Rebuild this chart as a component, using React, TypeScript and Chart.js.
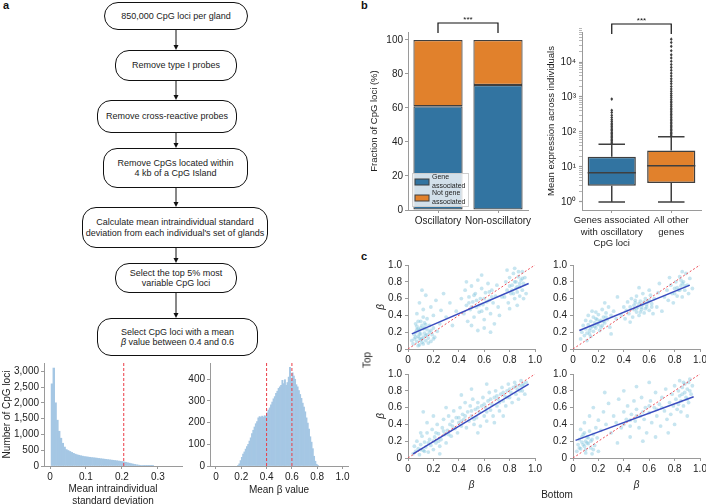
import React, { useEffect, useRef } from 'react';
import { Chart, registerables } from 'chart.js';

Chart.register(...registerables);

const FONT = '"Liberation Sans", Arial, Helvetica, sans-serif';
Chart.defaults.font.family = FONT;
Chart.defaults.font.size = 10;
Chart.defaults.color = '#222';

// ---------------- DATA ----------------
const flowSteps: string[][] = [
  ['850,000 CpG loci per gland'],
  ['Remove type I probes'],
  ['Remove cross-reactive probes'],
  ['Remove CpGs located within', '4 kb of a CpG Island'],
  ['Calculate mean intraindividual standard', "deviation from each individual's set of glands"],
  ['Select the top 5% most', 'variable CpG loci'],
  ['Select CpG loci with a mean', 'β value between 0.4 and 0.6'],
];

// histogram 1: mean intraindividual SD
const sdBinStart = 0.003;
const sdBinWidth = 0.005;
const sdCounts = [2600, 3100, 2000, 1450, 1100, 880, 720, 600, 520, 490, 460, 430, 400, 375, 355, 340, 325, 312, 300, 292, 284, 276, 268, 262, 255, 248, 240, 232, 225, 218, 210, 203, 196, 188, 181, 174, 166, 158, 150, 140, 130, 118, 104, 90, 76, 62, 50, 39, 30, 22, 15, 10, 6, 4, 2, 1, 1];
const sdThreshold = 0.205;
const sdTicks = [0, 0.1, 0.2, 0.3];
const sdCountTicks = [0, 500, 1000, 1500, 2000, 2500, 3000];

// histogram 2: mean beta
const betaBinStart = 0.17;
const betaBinWidth = 0.01;
const betaCounts = [3, 10, 25, 40, 55, 65, 78, 90, 100, 115, 130, 150, 165, 180, 195, 205, 222, 228, 225, 230, 226, 232, 228, 245, 258, 268, 282, 295, 310, 320, 335, 345, 358, 365, 372, 395, 380, 398, 372, 385, 410, 455, 395, 430, 415, 400, 375, 365, 348, 330, 312, 290, 272, 250, 222, 198, 170, 135, 110, 80, 45, 22, 8, 3];
const betaThresholds = [0.4, 0.6];
const betaTicks = [0, 0.2, 0.4, 0.6, 0.8, 1.0];
const betaCountTicks = [0, 100, 200, 300, 400];

// panel b: stacked bars
const lociGroups = ['Oscillatory', 'Non-oscillatory'];
const geneAssociated = [61, 73.5];
const notGeneAssociated = [39, 26.5];
const fractionTicks = [0, 20, 40, 60, 80, 100];

// panel b: box plot
const exprGroups = [['Genes associated', 'with oscillatory', 'CpG loci'], ['All other', 'genes']];
const whiskerLow = [1, 1];
const q1 = [2.9, 3.5];
const median = [6.9, 10.9];
const q3 = [19.5, 29.5];
const whiskerHigh = [45, 73];
const outliersOsc = [48, 52, 57, 62, 68, 75, 82, 90, 98, 108, 118, 130, 145, 160, 178, 200, 225, 260, 300, 360, 420, 870];
const outliersOther = [76, 82, 90, 98, 108, 118, 130, 142, 156, 172, 190, 210, 232, 256, 285, 315, 350, 390, 430, 480, 540, 600, 680, 760, 860, 980, 1100, 1250, 1450, 1700, 2000, 2400, 2800, 3300, 4000, 4800, 5800, 7000, 8500, 10500, 13000, 16000, 21000, 28000, 36000, 45000];
const exprDecades = [0, 1, 2, 3, 4];

// panel c: scatter (Bottom beta vs Top beta)
const scatterTL: number[][] = [
  [0.04, 0.06], [0.05, 0.12], [0.06, 0.2], [0.07, 0.09], [0.07, 0.27], [0.08, 0.15], [0.08, 0.33], [0.09, 0.05], [0.09, 0.22], [0.1, 0.11], [0.1, 0.18], [0.11, 0.28], [0.11, 0.08], [0.12, 0.14], [0.12, 0.24], [0.13, 0.19], [0.13, 0.31], [0.14, 0.1], [0.14, 0.16], [0.15, 0.23], [0.15, 0.36], [0.16, 0.13], [0.17, 0.2], [0.17, 0.28], [0.18, 0.09], [0.19, 0.17], [0.2, 0.25], [0.21, 0.14], [0.05, 0.17], [0.06, 0.3], [0.08, 0.04], [0.1, 0.25], [0.12, 0.38], [0.09, 0.13], [0.16, 0.07], [0.23, 0.21], [0.25, 0.3], [0.03, 0.1],
  [0.06, 0.14], [0.07, 0.23], [0.09, 0.18], [0.11, 0.12], [0.13, 0.25], [0.15, 0.17], [0.08, 0.24], [0.12, 0.06], [0.14, 0.29], [0.1, 0.33], [0.18, 0.22], [0.2, 0.12],
  [0.07, 0.42], [0.09, 0.55], [0.12, 0.47], [0.14, 0.64], [0.18, 0.5], [0.2, 0.4], [0.22, 0.58], [0.26, 0.46], [0.3, 0.38], [0.33, 0.55], [0.28, 0.66], [0.11, 0.7], [0.35, 0.28], [0.38, 0.45],
  [0.42, 0.6], [0.44, 0.42], [0.45, 0.7], [0.46, 0.52], [0.47, 0.33], [0.48, 0.62], [0.49, 0.47], [0.5, 0.75], [0.51, 0.56], [0.52, 0.38], [0.53, 0.66], [0.54, 0.5], [0.55, 0.82], [0.56, 0.44], [0.57, 0.6], [0.58, 0.72], [0.59, 0.53], [0.6, 0.35], [0.61, 0.67], [0.62, 0.48], [0.63, 0.78], [0.64, 0.58], [0.65, 0.42], [0.66, 0.7], [0.67, 0.55], [0.68, 0.3], [0.69, 0.63], [0.7, 0.76], [0.71, 0.5], [0.5, 0.28], [0.55, 0.22], [0.6, 0.25], [0.65, 0.2], [0.72, 0.4], [0.74, 0.62], [0.46, 0.8], [0.58, 0.88],
  [0.48, 0.55], [0.52, 0.64], [0.56, 0.52], [0.6, 0.6], [0.64, 0.68], [0.54, 0.58], [0.5, 0.5], [0.62, 0.56], [0.58, 0.45], [0.66, 0.62],
  [0.76, 0.62], [0.77, 0.8], [0.78, 0.7], [0.79, 0.55], [0.8, 0.85], [0.81, 0.66], [0.82, 0.76], [0.83, 0.9], [0.84, 0.6], [0.85, 0.72], [0.85, 0.8], [0.86, 0.68], [0.87, 0.86], [0.88, 0.74], [0.88, 0.63], [0.89, 0.82], [0.9, 0.92], [0.9, 0.7], [0.91, 0.78], [0.92, 0.85], [0.93, 0.66], [0.8, 0.48], [0.86, 0.52], [0.78, 0.94], [0.84, 0.96], [0.91, 0.6],
  [0.8, 0.75], [0.82, 0.7], [0.84, 0.8], [0.86, 0.74], [0.88, 0.78], [0.9, 0.84], [0.83, 0.66], [0.87, 0.92],
];
const scatterTR: number[][] = [
  [0.06, 0.12], [0.07, 0.2], [0.08, 0.28], [0.09, 0.16], [0.1, 0.24], [0.1, 0.34], [0.11, 0.19], [0.12, 0.29], [0.12, 0.4], [0.13, 0.22], [0.14, 0.33], [0.14, 0.15], [0.15, 0.27], [0.16, 0.38], [0.16, 0.21], [0.17, 0.31], [0.18, 0.44], [0.18, 0.25], [0.19, 0.35], [0.2, 0.29], [0.2, 0.41], [0.21, 0.22], [0.22, 0.34], [0.23, 0.47], [0.23, 0.28], [0.24, 0.38], [0.25, 0.31], [0.26, 0.43], [0.27, 0.35], [0.28, 0.5], [0.29, 0.26], [0.3, 0.4], [0.32, 0.45], [0.34, 0.36], [0.15, 0.45], [0.25, 0.55], [0.11, 0.1],
  [0.14, 0.25], [0.17, 0.27], [0.19, 0.3], [0.21, 0.33], [0.22, 0.26], [0.24, 0.33], [0.18, 0.36], [0.13, 0.18], [0.26, 0.38],
  [0.38, 0.4], [0.4, 0.5], [0.41, 0.36], [0.42, 0.46], [0.43, 0.56], [0.44, 0.42], [0.45, 0.5], [0.46, 0.6], [0.47, 0.38], [0.48, 0.47], [0.49, 0.55], [0.5, 0.44], [0.5, 0.63], [0.51, 0.5], [0.52, 0.4], [0.53, 0.57], [0.54, 0.47], [0.55, 0.66], [0.55, 0.53], [0.56, 0.43], [0.57, 0.6], [0.58, 0.5], [0.59, 0.56], [0.6, 0.46], [0.61, 0.64], [0.62, 0.54], [0.63, 0.42], [0.64, 0.6], [0.66, 0.5], [0.67, 0.67], [0.45, 0.32], [0.6, 0.7], [0.52, 0.73], [0.7, 0.45],
  [0.48, 0.52], [0.5, 0.48], [0.52, 0.54], [0.54, 0.5], [0.56, 0.56], [0.58, 0.53], [0.6, 0.58], [0.53, 0.44], [0.57, 0.48], [0.49, 0.58], [0.62, 0.5],
  [0.72, 0.62], [0.74, 0.7], [0.75, 0.58], [0.77, 0.76], [0.78, 0.66], [0.79, 0.55], [0.8, 0.72], [0.81, 0.8], [0.82, 0.63], [0.83, 0.7], [0.84, 0.86], [0.85, 0.75], [0.86, 0.62], [0.87, 0.8], [0.88, 0.7], [0.89, 0.9], [0.9, 0.76], [0.91, 0.66], [0.92, 0.84], [0.76, 0.85], [0.86, 0.92], [0.68, 0.78], [0.35, 0.62], [0.3, 0.18], [0.94, 0.72],
  [0.82, 0.73], [0.84, 0.7], [0.86, 0.78], [0.88, 0.75], [0.85, 0.82], [0.8, 0.66],
];
const scatterBL: number[][] = [
  [0.04, 0.05], [0.05, 0.14], [0.06, 0.08], [0.07, 0.2], [0.08, 0.11], [0.09, 0.04], [0.1, 0.16], [0.11, 0.26], [0.12, 0.09], [0.13, 0.19], [0.14, 0.13], [0.15, 0.3], [0.16, 0.07], [0.17, 0.22], [0.18, 0.15], [0.19, 0.34], [0.2, 0.1], [0.21, 0.25], [0.22, 0.18], [0.23, 0.4], [0.24, 0.29], [0.25, 0.14], [0.26, 0.22], [0.27, 0.36], [0.28, 0.46], [0.29, 0.28], [0.3, 0.18], [0.31, 0.33], [0.32, 0.5], [0.33, 0.4], [0.34, 0.26], [0.35, 0.44], [0.36, 0.56], [0.37, 0.35], [0.38, 0.48], [0.39, 0.3], [0.4, 0.42], [0.41, 0.6], [0.42, 0.38], [0.43, 0.52], [0.44, 0.46], [0.45, 0.66], [0.46, 0.36], [0.47, 0.55], [0.48, 0.44], [0.49, 0.62], [0.5, 0.5], [0.51, 0.7], [0.52, 0.4], [0.53, 0.58], [0.54, 0.48], [0.55, 0.66], [0.56, 0.55], [0.57, 0.38], [0.58, 0.62], [0.59, 0.72], [0.6, 0.5], [0.61, 0.6], [0.62, 0.44], [0.63, 0.68], [0.64, 0.78], [0.65, 0.57], [0.66, 0.64], [0.67, 0.5], [0.68, 0.72], [0.69, 0.8], [0.7, 0.62], [0.71, 0.7], [0.72, 0.56], [0.73, 0.76], [0.74, 0.84], [0.75, 0.68], [0.76, 0.74], [0.77, 0.62], [0.78, 0.8], [0.79, 0.88], [0.8, 0.72], [0.81, 0.78], [0.82, 0.66], [0.83, 0.84], [0.84, 0.9], [0.85, 0.76], [0.86, 0.82], [0.87, 0.7], [0.88, 0.86], [0.89, 0.92], [0.9, 0.8], [0.91, 0.88], [0.92, 0.76], [0.93, 0.9], [0.2, 0.5], [0.15, 0.42], [0.3, 0.6], [0.42, 0.75], [0.55, 0.3], [0.68, 0.42], [0.75, 0.5], [0.1, 0.3], [0.25, 0.05], [0.5, 0.82], [0.62, 0.88], [0.12, 0.55],
  [0.1, 0.1], [0.13, 0.08], [0.16, 0.18], [0.2, 0.2], [0.24, 0.2], [0.28, 0.32], [0.35, 0.38], [0.4, 0.48], [0.45, 0.5], [0.5, 0.56], [0.55, 0.6], [0.6, 0.64], [0.65, 0.7], [0.7, 0.74], [0.75, 0.78], [0.8, 0.82], [0.85, 0.86], [0.88, 0.8], [0.9, 0.86], [0.78, 0.72], [0.72, 0.66], [0.62, 0.55], [0.52, 0.46], [0.42, 0.44], [0.32, 0.28], [0.22, 0.3],
];
const scatterBR: number[][] = [
  [0.03, 0.08], [0.04, 0.16], [0.05, 0.22], [0.06, 0.11], [0.07, 0.19], [0.08, 0.28], [0.09, 0.14], [0.1, 0.2], [0.1, 0.06], [0.11, 0.25], [0.12, 0.17], [0.13, 0.32], [0.14, 0.12], [0.15, 0.22], [0.16, 0.28], [0.17, 0.15], [0.18, 0.36], [0.19, 0.24], [0.06, 0.34], [0.09, 0.42], [0.13, 0.5], [0.16, 0.6], [0.2, 0.45], [0.22, 0.33], [0.24, 0.55], [0.26, 0.4], [0.28, 0.65], [0.3, 0.3], [0.32, 0.5], [0.34, 0.42], [0.36, 0.7], [0.38, 0.36], [0.4, 0.55], [0.42, 0.46], [0.43, 0.62], [0.45, 0.38], [0.46, 0.52], [0.48, 0.68], [0.49, 0.44], [0.5, 0.58], [0.52, 0.36], [0.53, 0.5], [0.54, 0.72], [0.56, 0.46], [0.57, 0.6], [0.58, 0.3], [0.6, 0.54], [0.61, 0.68], [0.62, 0.42], [0.64, 0.6], [0.65, 0.78], [0.66, 0.5], [0.68, 0.64], [0.69, 0.38], [0.7, 0.72], [0.72, 0.56], [0.73, 0.82], [0.74, 0.46], [0.76, 0.66], [0.77, 0.52], [0.78, 0.76], [0.79, 0.62], [0.8, 0.86], [0.81, 0.7], [0.82, 0.58], [0.83, 0.8], [0.84, 0.92], [0.85, 0.68], [0.86, 0.76], [0.87, 0.62], [0.88, 0.88], [0.89, 0.72], [0.9, 0.82], [0.91, 0.66], [0.92, 0.94], [0.93, 0.76], [0.94, 0.86], [0.85, 0.55], [0.9, 0.5], [0.75, 0.3], [0.55, 0.2], [0.45, 0.25], [0.35, 0.18], [0.25, 0.78], [0.5, 0.85], [0.65, 0.25], [0.4, 0.8], [0.8, 0.4], [0.2, 0.08], [0.15, 0.05], [0.6, 0.9],
  [0.05, 0.12], [0.07, 0.25], [0.08, 0.16], [0.1, 0.1], [0.11, 0.18], [0.12, 0.24], [0.14, 0.2], [0.09, 0.3], [0.16, 0.1],
  [0.84, 0.74], [0.86, 0.84], [0.88, 0.78], [0.9, 0.7], [0.92, 0.8], [0.87, 0.9], [0.83, 0.64], [0.91, 0.9],
  [0.5, 0.5], [0.55, 0.55], [0.6, 0.62], [0.45, 0.45], [0.66, 0.58], [0.4, 0.4], [0.7, 0.6],
];
const regTL = [[0.03, 0.18], [0.95, 0.78]];
const regTR = [[0.05, 0.22], [0.92, 0.76]];
const regBL = [[0.04, 0.05], [0.95, 0.88]];
const regBR = [[0.02, 0.21], [0.95, 0.73]];
const identityLine = [[0, 0], [1, 1]];
const unitTicks = [0, 0.2, 0.4, 0.6, 0.8, 1.0];

// ---------------- STYLE ----------------
const BLUE = '#3274a1';
const ORANGE = '#e1812c';
const EDGE = '#3f3f3f';
const HIST = '#a5c7e4';
const RED = '#ec3d47';
const AXIS = '#9a9a9a';
const DOT = 'rgba(122,194,220,0.42)';
const REG = '#3a4cbf';
const SUP = ['⁰', '¹', '²', '³', '⁴', '⁵'];

const grid = { drawOnChartArea: false, drawTicks: true, tickLength: 3, color: AXIS, offset: false };
const border = { color: AXIS, width: 1 };
const fixX = (h: number) => (s: any) => { s.height = h; s.paddingLeft = 0; s.paddingRight = 0; };
const fixY = (w: number) => (s: any) => { s.width = w; s.paddingTop = 0; s.paddingBottom = 0; };
const setTicks = (vals: number[]) => (s: any) => { s.ticks = vals.map((v) => ({ value: v })); };
const dec1 = (v: any) => (Number(v) === 0 ? '0' : Number(v).toFixed(1));
const basePlugins = { legend: { display: false }, tooltip: { enabled: false } };

function ChartCanvas(props: { left: number; top: number; width: number; height: number; config: () => any }) {
  const ref = useRef<HTMLCanvasElement | null>(null);
  useEffect(() => {
    if (!ref.current) return;
    const chart = new Chart(ref.current, props.config());
    return () => chart.destroy();
  }, []);
  return (
    <canvas
      ref={ref}
      width={props.width}
      height={props.height}
      style={{ position: 'absolute', left: props.left, top: props.top, width: props.width, height: props.height }}
    />
  );
}

const bracketPlugin = (yTop: number, yLeg: number) => ({
  id: 'bracket',
  afterDraw(chart: any) {
    const ctx = chart.ctx;
    const xs = chart.scales.x;
    const x0 = xs.getPixelForValue(0);
    const x1 = xs.getPixelForValue(1);
    ctx.save();
    ctx.strokeStyle = '#111';
    ctx.lineWidth = 1.2;
    ctx.beginPath();
    ctx.moveTo(x0, yLeg);
    ctx.lineTo(x0, yTop);
    ctx.lineTo(x1, yTop);
    ctx.lineTo(x1, yLeg);
    ctx.stroke();
    ctx.fillStyle = '#111';
    ctx.font = '8px ' + FONT;
    ctx.textAlign = 'center';
    ctx.textBaseline = 'bottom';
    ctx.fillText('***', (x0 + x1) / 2, yTop + 1);
    ctx.restore();
  },
});

// ---------------- CONFIGS ----------------
function histSdConfig() {
  return {
    type: 'bar',
    data: {
      datasets: [
        { type: 'line', data: [{ x: sdThreshold, y: 0 }, { x: sdThreshold, y: 3260 }], borderColor: RED, borderWidth: 1, borderDash: [3, 2], pointRadius: 0 },
        {
          type: 'bar',
          data: sdCounts.map((c, i) => ({ x: sdBinStart + (i + 0.5) * sdBinWidth, y: c })),
          backgroundColor: HIST, borderWidth: 0, barPercentage: 1, categoryPercentage: 1,
        },
      ],
    },
    options: {
      animation: false, responsive: false, maintainAspectRatio: false,
      layout: { padding: { top: 8, right: 4, left: 0, bottom: 0 } },
      plugins: basePlugins,
      scales: {
        x: {
          type: 'linear', min: -0.0167, max: 0.367, offset: false, grid, border,
          afterBuildTicks: setTicks(sdTicks), afterFit: fixX(38),
          ticks: { callback: dec1, padding: 2, maxRotation: 0, autoSkip: false },
          title: { display: true, text: ['Mean intraindividual', 'standard deviation'], font: { size: 10 }, padding: { top: 0, bottom: -3 } },
        },
        y: {
          min: 0, max: 3260, grid, border,
          afterBuildTicks: setTicks(sdCountTicks), afterFit: fixY(44),
          ticks: { callback: (v: any) => Number(v).toLocaleString('en-US'), padding: 2, autoSkip: false },
          title: { display: true, text: 'Number of CpG loci', font: { size: 10 }, padding: { top: 1, bottom: 0 } },
        },
      },
    },
  };
}

function histBetaConfig() {
  return {
    type: 'bar',
    data: {
      datasets: [
        ...betaThresholds.map((t) => ({ type: 'line', data: [{ x: t, y: 0 }, { x: t, y: 475 }], borderColor: RED, borderWidth: 1, borderDash: [3, 2], pointRadius: 0 })),
        {
          type: 'bar',
          data: betaCounts.map((c, i) => ({ x: betaBinStart + (i + 0.5) * betaBinWidth, y: c })),
          backgroundColor: HIST, borderWidth: 0, barPercentage: 1, categoryPercentage: 1,
        },
      ],
    },
    options: {
      animation: false, responsive: false, maintainAspectRatio: false,
      layout: { padding: { top: 8, right: 2, left: 0, bottom: 0 } },
      plugins: basePlugins,
      scales: {
        x: {
          type: 'linear', min: -0.047, max: 1.043, offset: false, grid, border,
          afterBuildTicks: setTicks(betaTicks), afterFit: fixX(38),
          ticks: { callback: dec1, padding: 2, maxRotation: 0, autoSkip: false },
          title: { display: true, text: 'Mean β value', font: { size: 10 }, padding: { top: 0, bottom: 8 } },
        },
        y: {
          min: 0, max: 475, grid, border,
          afterBuildTicks: setTicks(betaCountTicks), afterFit: fixY(30),
          ticks: { padding: 2, autoSkip: false },
        },
      },
    },
  };
}

const legendPlugin = {
  id: 'innerLegend',
  afterDatasetsDraw(chart: any) {
    const ctx = chart.ctx;
    const area = chart.chartArea;
    const x0 = area.left + 4;
    const y0 = area.bottom - 37;
    ctx.save();
    ctx.fillStyle = 'rgba(255,255,255,0.78)';
    ctx.strokeStyle = '#cfcfcf';
    ctx.lineWidth = 1;
    ctx.fillRect(x0, y0, 57, 34);
    ctx.strokeRect(x0 + 0.5, y0 + 0.5, 56, 33);
    const entries = [
      { color: chart.data.datasets[0].backgroundColor, lines: ['Gene', 'associated'], sy: y0 + 9 },
      { color: chart.data.datasets[1].backgroundColor, lines: ['Not gene', 'associated'], sy: y0 + 25 },
    ];
    ctx.font = '7px ' + FONT;
    ctx.textBaseline = 'middle';
    ctx.textAlign = 'left';
    entries.forEach((e) => {
      ctx.fillStyle = e.color;
      ctx.fillRect(x0 + 3, e.sy - 3, 14, 6);
      ctx.strokeStyle = EDGE;
      ctx.strokeRect(x0 + 3, e.sy - 3, 14, 6);
      ctx.fillStyle = '#222';
      ctx.fillText(e.lines[0], x0 + 20, e.sy - 4.5);
      ctx.fillText(e.lines[1], x0 + 20, e.sy + 4);
    });
    ctx.restore();
  },
};

function barConfig() {
  return {
    type: 'bar',
    data: {
      labels: lociGroups,
      datasets: [
        { label: 'Gene associated', data: geneAssociated, backgroundColor: BLUE, borderColor: EDGE, borderWidth: 1.2, borderSkipped: false, barPercentage: 0.82, categoryPercentage: 1 },
        { label: 'Not gene associated', data: notGeneAssociated, backgroundColor: ORANGE, borderColor: EDGE, borderWidth: 1.2, borderSkipped: false, barPercentage: 0.82, categoryPercentage: 1 },
      ],
    },
    plugins: [legendPlugin, bracketPlugin(23, 33)],
    options: {
      animation: false, responsive: false, maintainAspectRatio: false,
      layout: { padding: { top: 32, right: 7, left: 0, bottom: 0 } },
      plugins: basePlugins,
      scales: {
        x: {
          stacked: true, grid, border, afterFit: fixX(40),
          ticks: { padding: 2, maxRotation: 0, autoSkip: false },
        },
        y: {
          stacked: true, min: 0, max: 104.7, grid, border,
          afterBuildTicks: setTicks(fractionTicks), afterFit: fixY(48),
          ticks: { padding: 2, autoSkip: false },
          title: { display: true, text: 'Fraction of CpG loci (%)', font: { size: 9.5 }, padding: { top: 9, bottom: 0 } },
        },
      },
    },
  };
}

const boxPlugin = {
  id: 'boxExtras',
  afterDatasetsDraw(chart: any) {
    const ctx = chart.ctx;
    const ys = chart.scales.y;
    const meta = chart.getDatasetMeta(0);
    ctx.save();
    ctx.strokeStyle = EDGE;
    ctx.lineWidth = 1.5;
    const outs = [outliersOsc, outliersOther];
    for (let i = 0; i < q1.length; i++) {
      const bar = meta.data[i];
      const cx = bar.x;
      const half = bar.width / 2;
      const cap = half * 0.55;
      const yq1 = ys.getPixelForValue(q1[i]);
      const yq3 = ys.getPixelForValue(q3[i]);
      const ylo = ys.getPixelForValue(whiskerLow[i]);
      const yhi = ys.getPixelForValue(whiskerHigh[i]);
      const ymed = ys.getPixelForValue(median[i]);
      ctx.beginPath();
      ctx.moveTo(cx, yq1); ctx.lineTo(cx, ylo);
      ctx.moveTo(cx - cap, ylo); ctx.lineTo(cx + cap, ylo);
      ctx.moveTo(cx, yq3); ctx.lineTo(cx, yhi);
      ctx.moveTo(cx - cap, yhi); ctx.lineTo(cx + cap, yhi);
      ctx.moveTo(cx - half, ymed); ctx.lineTo(cx + half, ymed);
      ctx.stroke();
      ctx.fillStyle = EDGE;
      outs[i].forEach((v) => {
        const py = ys.getPixelForValue(v);
        ctx.beginPath();
        ctx.moveTo(cx, py - 1.8); ctx.lineTo(cx + 1.4, py); ctx.lineTo(cx, py + 1.8); ctx.lineTo(cx - 1.4, py);
        ctx.closePath();
        ctx.fill();
      });
    }
    ctx.restore();
  },
};

function boxConfig() {
  const logTicks: number[] = [];
  exprDecades.forEach((d) => {
    for (let m = 1; m <= 9; m++) logTicks.push(m * Math.pow(10, d));
  });
  return {
    type: 'bar',
    data: {
      labels: exprGroups,
      datasets: [
        {
          data: q1.map((v, i) => [v, q3[i]]),
          backgroundColor: [BLUE, ORANGE], borderColor: EDGE, borderWidth: 1.5, borderSkipped: false,
          barPercentage: 0.81, categoryPercentage: 1,
        },
      ],
    },
    plugins: [boxPlugin, bracketPlugin(24, 34)],
    options: {
      animation: false, responsive: false, maintainAspectRatio: false,
      layout: { padding: { top: 32, right: 5, left: 0, bottom: 0 } },
      plugins: basePlugins,
      scales: {
        x: {
          grid, border, afterFit: fixX(40),
          ticks: { padding: 2, maxRotation: 0, autoSkip: false, font: { size: 9.5, lineHeight: 1.2 } },
        },
        y: {
          type: 'logarithmic', min: 0.59, max: 72000,
          grid: { ...grid, tickWidth: (c: any) => (c.tick && Math.abs(Math.log10(c.tick.value) - Math.round(Math.log10(c.tick.value))) < 1e-6 ? 1.2 : 0.7) },
          border, afterBuildTicks: setTicks(logTicks), afterFit: fixY(47),
          ticks: {
            autoSkip: false, padding: 3,
            callback: (v: any) => {
              const e = Math.log10(Number(v));
              return Math.abs(e - Math.round(e)) < 1e-6 ? '10' + SUP[Math.round(e)] : '';
            },
          },
          title: { display: true, text: 'Mean expression across individuals', font: { size: 9.5 }, padding: { top: 11, bottom: 0 } },
        },
      },
    },
  };
}

function scatterConfig(points: number[][], reg: number[][], yTitle: boolean, xTitle: boolean, yW: number, xH: number, padTop: number, padRight: number) {
  return {
    type: 'scatter',
    data: {
      datasets: [
        { type: 'line', data: reg.map(([x, y]) => ({ x, y })), borderColor: REG, borderWidth: 1.5, pointRadius: 0, fill: false },
        { type: 'line', data: identityLine.map(([x, y]) => ({ x, y })), borderColor: RED, borderWidth: 0.9, borderDash: [2, 2], pointRadius: 0, fill: false },
        { data: points.map(([x, y]) => ({ x, y })), pointRadius: 1.9, backgroundColor: DOT, borderWidth: 0 },
      ],
    },
    options: {
      animation: false, responsive: false, maintainAspectRatio: false,
      layout: { padding: { top: padTop, right: padRight, left: 0, bottom: 0 } },
      plugins: basePlugins,
      scales: {
        x: {
          type: 'linear', min: 0, max: 1, grid, border,
          afterBuildTicks: setTicks(unitTicks), afterFit: fixX(xH),
          ticks: { callback: dec1, padding: 2, maxRotation: 0, autoSkip: false },
          title: { display: xTitle, text: 'β', font: { size: 10, style: 'italic' }, padding: { top: 0, bottom: 13 } },
        },
        y: {
          type: 'linear', min: 0, max: 1, grid, border,
          afterBuildTicks: setTicks(unitTicks), afterFit: fixY(yW),
          ticks: { callback: dec1, padding: 3, autoSkip: false },
          title: { display: yTitle, text: 'β', font: { size: 10, style: 'italic' }, padding: { top: 5, bottom: 0 } },
        },
      },
    },
  };
}

// ---------------- FLOWCHART ----------------
const flowLayout = [
  { l: 104, t: 2, w: 144, h: 28 },
  { l: 115, t: 50, w: 122, h: 31 },
  { l: 97, t: 100, w: 140, h: 33 },
  { l: 103, t: 148, w: 145, h: 40 },
  { l: 82, t: 207, w: 186, h: 41 },
  { l: 115, t: 263, w: 122, h: 30 },
  { l: 97, t: 318, w: 161, h: 38 },
];
const ARROW_X = 176;

function Flowchart() {
  return (
    <>
      <svg width={300} height={360} style={{ position: 'absolute', left: 0, top: 0 }}>
        {flowLayout.slice(0, -1).map((b, i) => {
          const y0 = b.t + b.h;
          const y1 = flowLayout[i + 1].t;
          return (
            <g key={i}>
              <line x1={ARROW_X} y1={y0} x2={ARROW_X} y2={y1 - 4} stroke="#111" strokeWidth={1} />
              <polygon points={`${ARROW_X - 2.5},${y1 - 5} ${ARROW_X + 2.5},${y1 - 5} ${ARROW_X},${y1}`} fill="#111" />
            </g>
          );
        })}
      </svg>
      {flowSteps.map((lines, i) => {
        const b = flowLayout[i];
        return (
          <div
            key={i}
            style={{
              position: 'absolute', left: b.l, top: b.t, width: b.w, height: b.h, boxSizing: 'border-box',
              border: '1.8px solid #111', borderRadius: 14, display: 'flex', flexDirection: 'column',
              alignItems: 'center', justifyContent: 'center', fontSize: 9, lineHeight: '10.5px', color: '#222',
              whiteSpace: 'nowrap', background: '#fff',
            }}
          >
            {lines.map((ln, j) =>
              ln.startsWith('β') ? (
                <div key={j}><i>β</i>{ln.slice(1)}</div>
              ) : (
                <div key={j}>{ln}</div>
              )
            )}
          </div>
        );
      })}
    </>
  );
}

export default function App() {
  const letter: any = { position: 'absolute', fontWeight: 'bold', fontSize: 11, color: '#111' };
  return (
    <div style={{ position: 'fixed', left: 0, top: 0, width: 706, height: 504, background: '#fff', overflow: 'hidden', fontFamily: FONT }}>
      <div style={{ ...letter, left: 3, top: -1 }}>a</div>
      <div style={{ ...letter, left: 361, top: -1 }}>b</div>
      <div style={{ ...letter, left: 361, top: 250 }}>c</div>
      <Flowchart />
      <ChartCanvas left={0} top={355} width={186} height={149} config={histSdConfig} />
      <ChartCanvas left={180} top={355} width={170} height={149} config={histBetaConfig} />
      <ChartCanvas left={360} top={0} width={175} height={250} config={barConfig} />
      <ChartCanvas left={535} top={0} width={171} height={250} config={boxConfig} />
      <ChartCanvas left={370} top={258} width={175} height={108} config={() => scatterConfig(scatterTL, regTL, true, false, 38, 17, 7, 10)} />
      <ChartCanvas left={545} top={258} width={161} height={108} config={() => scatterConfig(scatterTR, regTR, false, false, 28, 17, 7, 6)} />
      <ChartCanvas left={370} top={368} width={175} height={136} config={() => scatterConfig(scatterBL, regBL, true, true, 38, 46, 6, 10)} />
      <ChartCanvas left={545} top={368} width={161} height={136} config={() => scatterConfig(scatterBR, regBR, false, true, 28, 46, 6, 6)} />
      <div style={{ position: 'absolute', left: 367, top: 360, transform: 'translate(-50%,-50%) rotate(-90deg)', fontSize: 10, color: '#222' }}>Top</div>
      <div style={{ position: 'absolute', left: 557, top: 494, transform: 'translate(-50%,-50%)', fontSize: 10, color: '#222' }}>Bottom</div>
    </div>
  );
}
